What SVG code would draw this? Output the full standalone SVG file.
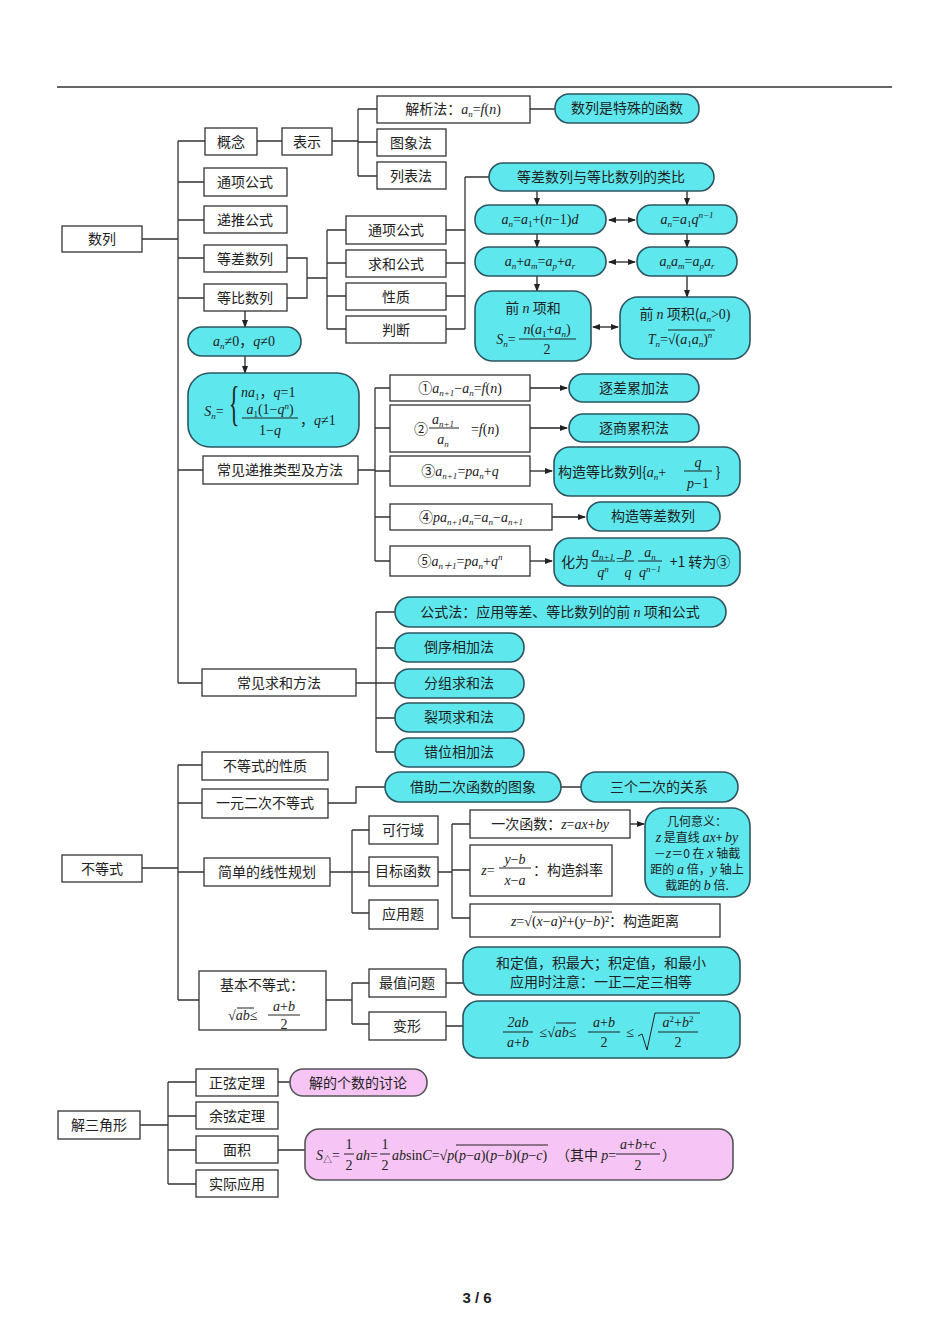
<svg xmlns="http://www.w3.org/2000/svg" width="950" height="1344" viewBox="0 0 950 1344">
<defs>
<marker id="ah" markerWidth="8" markerHeight="8" refX="7" refY="4" orient="auto-start-reverse" markerUnits="userSpaceOnUse"><path d="M0,1 L8,4 L0,7 Z" fill="#222"/></marker>
<style>
.b{fill:#fff;stroke:#333;stroke-width:1.3}
.c{fill:#5ee8ee;stroke:#2d5560;stroke-width:1.6}
.p{fill:#f7c5f5;stroke:#555;stroke-width:1.6}
.l{fill:none;stroke:#333;stroke-width:1.3}
.a{fill:none;stroke:#222;stroke-width:1.3;marker-end:url(#ah)}
.d{fill:none;stroke:#222;stroke-width:1.3;marker-end:url(#ah);marker-start:url(#ah)}
text{font-family:"Noto Sans CJK SC","Liberation Sans",sans-serif;font-size:14px;fill:#222;text-anchor:middle}
.m{font-family:"Liberation Serif","Noto Sans CJK SC",serif;font-style:italic;font-size:14px}
.s{font-size:9px}
.r{font-style:normal}
.st{text-anchor:start}
</style>
</defs>
<rect width="950" height="1344" fill="#fff"/>
<line x1="57" y1="87" x2="892" y2="87" stroke="#333" stroke-width="1.3"/>

<g id="connectors">
<path class="l" d="M142,239 H178 M178,141 V683 M178,141 H205 M178,182 H204 M178,220 H204 M178,258 H204 M178,298 H204 M178,470 H203 M178,683 H202"/>
<path class="l" d="M257,141 H282 M332,141 H358 M358,109 V176 M358,109 H377 M358,142 H377 M358,176 H377 M530,109 H555"/>
<path class="l" d="M287,258 H307 V298 H287 M307,278 H327 M327,230 V329 M327,230 H346 M327,263 H346 M327,296 H346 M327,329 H346"/>
<path class="l" d="M446,230 H465 M446,263 H465 M446,296 H465 M446,329 H465 M465,177 V329 M465,177 H489"/>
<path class="a" d="M537,191 V205"/><path class="a" d="M687,191 V205"/>
<path class="a" d="M537,234 V247"/><path class="a" d="M687,234 V247"/>
<path class="a" d="M537,276 V291"/><path class="a" d="M687,276 V297"/>
<path class="d" d="M609,220 H635"/><path class="d" d="M609,262 H635"/><path class="d" d="M593,327 H618"/>
<path class="a" d="M245,311 V327"/><path class="a" d="M245,356 V373"/>
<path class="l" d="M358,470 H375 M375,388 V561 M375,388 H390 M375,428 H390 M375,471 H390 M375,517 H390 M375,561 H390"/>
<path class="a" d="M530,388 H567"/><path class="a" d="M530,428 H567"/><path class="a" d="M530,471 H552"/><path class="a" d="M552,517 H585"/><path class="a" d="M530,561 H552"/>
<path class="l" d="M356,683 H376 M376,612 V752 M376,612 H395 M376,648 H395 M376,683 H395 M376,718 H395 M376,752 H395"/>
<path class="l" d="M142,868 H178 M178,765 V1000 M178,765 H202 M178,803 H202 M178,872 H204 M178,1000 H199"/>
<path class="l" d="M328,803 H356 V787 H385 M561,787 H581"/>
<path class="l" d="M330,872 H352 M352,830 V913 M352,830 H369 M352,872 H369 M352,913 H369 M438,872 H452 M452,824 V918 M452,824 H470 M452,870 H470 M452,918 H470"/>
<path class="a" d="M630,824 H644"/>
<path class="l" d="M326,1000 H352 M352,983 V1024 M352,983 H369 M352,1024 H369 M446,983 H463 M446,1026 H463"/>
<path class="l" d="M140,1125 H168 M168,1082 V1184 M168,1082 H196 M168,1116 H196 M168,1150 H196 M168,1184 H196 M278,1082 H290 M278,1150 H305"/>
</g>

<g id="n-shulie"><rect class="b" x="62" y="226" width="80" height="26"/><text x="102" y="244">数列</text></g>
<g id="n-gainian"><rect class="b" x="205" y="128" width="52" height="27"/><text x="231" y="147">概念</text></g>
<g id="n-biaoshi"><rect class="b" x="282" y="128" width="50" height="27"/><text x="307" y="147">表示</text></g>
<g id="n-jiexi"><rect class="b" x="377" y="96" width="153" height="27"/><text x="453" y="114"><tspan>解析法：</tspan><tspan class="m">a</tspan><tspan class="m s" dy="3">n</tspan><tspan class="m r" dy="-3">=</tspan><tspan class="m">f</tspan><tspan class="m r">(</tspan><tspan class="m">n</tspan><tspan class="m r">)</tspan></text></g>
<g id="n-tuxiang"><rect class="b" x="377" y="129" width="69" height="27"/><text x="411" y="148">图象法</text></g>
<g id="n-liebiao"><rect class="b" x="377" y="162" width="69" height="27"/><text x="411" y="181">列表法</text></g>
<g id="n-teshu"><rect class="c" x="555" y="94" width="144" height="29" rx="14"/><text x="627" y="113">数列是特殊的函数</text></g>
<g id="n-tongxiang"><rect class="b" x="204" y="168" width="83" height="28"/><text x="245" y="187">通项公式</text></g>
<g id="n-ditui"><rect class="b" x="204" y="206" width="83" height="27"/><text x="245" y="225">递推公式</text></g>
<g id="n-dengcha"><rect class="b" x="204" y="245" width="83" height="27"/><text x="245" y="264">等差数列</text></g>
<g id="n-dengbi"><rect class="b" x="204" y="284" width="83" height="27"/><text x="245" y="303">等比数列</text></g>
<g id="n-tx2"><rect class="b" x="346" y="216" width="100" height="28"/><text x="396" y="235">通项公式</text></g>
<g id="n-qiuhe"><rect class="b" x="346" y="250" width="100" height="27"/><text x="396" y="269">求和公式</text></g>
<g id="n-xingzhi"><rect class="b" x="346" y="283" width="100" height="27"/><text x="396" y="302">性质</text></g>
<g id="n-panduan"><rect class="b" x="346" y="316" width="100" height="27"/><text x="396" y="335">判断</text></g>
<g id="n-leibi"><rect class="c" x="489" y="163" width="225" height="28" rx="14"/><text x="601" y="182">等差数列与等比数列的类比</text></g>
<g id="n-c1"><rect class="c" x="475" y="205" width="131" height="29" rx="14"/><text class="m" x="540" y="224">a<tspan class="s" dy="3">n</tspan><tspan class="r" dy="-3">=</tspan>a<tspan class="s r" dy="3">1</tspan><tspan class="r" dy="-3">+(</tspan>n<tspan class="r">−1)</tspan>d</text></g>
<g id="n-c2"><rect class="c" x="637" y="205" width="100" height="29" rx="14"/><text class="m" x="687" y="224">a<tspan class="s" dy="3">n</tspan><tspan class="r" dy="-3">=</tspan>a<tspan class="s r" dy="3">1</tspan><tspan dy="-3">q</tspan><tspan class="s" dy="-6">n−1</tspan></text></g>
<g id="n-c3"><rect class="c" x="475" y="247" width="131" height="29" rx="14"/><text class="m" x="540" y="266">a<tspan class="s" dy="3">n</tspan><tspan class="r" dy="-3">+</tspan>a<tspan class="s" dy="3">m</tspan><tspan class="r" dy="-3">=</tspan>a<tspan class="s" dy="3">p</tspan><tspan class="r" dy="-3">+</tspan>a<tspan class="s" dy="3">r</tspan></text></g>
<g id="n-c4"><rect class="c" x="637" y="247" width="100" height="29" rx="14"/><text class="m" x="687" y="266">a<tspan class="s" dy="3">n</tspan><tspan dy="-3">a</tspan><tspan class="s" dy="3">m</tspan><tspan class="r" dy="-3">=</tspan>a<tspan class="s" dy="3">p</tspan><tspan dy="-3">a</tspan><tspan class="s" dy="3">r</tspan></text></g>
<g id="n-c5"><rect class="c" x="475" y="291" width="116" height="70" rx="18"/><text x="533" y="313">前 <tspan class="m">n</tspan> 项和</text><text class="m" x="506" y="344">S<tspan class="s" dy="3">n</tspan><tspan class="r" dy="-3">=</tspan></text><text class="m" x="547" y="334">n<tspan class="r">(</tspan>a<tspan class="s r" dy="3">1</tspan><tspan class="r" dy="-3">+</tspan>a<tspan class="s" dy="3">n</tspan><tspan class="r" dy="-3">)</tspan></text><line x1="519" y1="339" x2="576" y2="339" stroke="#222"/><text class="m r" x="547" y="354">2</text></g>
<g id="n-c6"><rect class="c" x="620" y="297" width="130" height="62" rx="18"/><text x="685" y="319">前 <tspan class="m">n</tspan> 项积(<tspan class="m">a</tspan><tspan class="m s" dy="3">n</tspan><tspan class="m r" dy="-3">&gt;0)</tspan></text><text class="m" x="680" y="344">T<tspan class="s" dy="3">n</tspan><tspan class="r" dy="-3">=√(</tspan>a<tspan class="s r" dy="3">1</tspan><tspan dy="-3">a</tspan><tspan class="s" dy="3">n</tspan><tspan class="r" dy="-3">)</tspan><tspan class="s" dy="-6">n</tspan></text><line x1="668" y1="330" x2="715" y2="330" stroke="#222"/></g>
<g id="n-ne0"><rect class="c" x="188" y="327" width="113" height="29" rx="14"/><text class="m" x="244" y="346">a<tspan class="s" dy="3">n</tspan><tspan class="r" dy="-3">≠0，</tspan>q<tspan class="r">≠0</tspan></text></g>
<g id="n-sn"><rect class="c" x="188" y="373" width="171" height="74" rx="22"/><text class="m" x="214" y="416">S<tspan class="s" dy="3">n</tspan><tspan class="r" dy="-3">=</tspan></text><text class="r" x="0" y="0" transform="translate(234,420) scale(1,2.2)" style="font-size:22px;font-family:'Liberation Serif',serif">{</text><text class="m st" x="241" y="397">na<tspan class="s r" dy="3">1</tspan><tspan class="r" dy="-3">，</tspan>q<tspan class="r">=1</tspan></text><text class="m" x="270" y="414">a<tspan class="s r" dy="3">1</tspan><tspan class="r" dy="-3">(1−</tspan>q<tspan class="s" dy="-5">n</tspan><tspan class="r" dy="5">)</tspan></text><line x1="242" y1="418" x2="298" y2="418" stroke="#222"/><text class="m" x="270" y="435"><tspan class="r">1−</tspan>q</text><text class="m st" x="300" y="425"><tspan class="r">，</tspan>q<tspan class="r">≠1</tspan></text></g>
<g id="n-digui"><rect class="b" x="203" y="456" width="155" height="28"/><text x="280" y="475">常见递推类型及方法</text></g>
<g id="n-r1"><rect class="b" x="390" y="375" width="140" height="26"/><text class="m" x="460" y="393"><tspan class="r">①</tspan>a<tspan class="s" dy="3">n+1</tspan><tspan class="r" dy="-3">−</tspan>a<tspan class="s" dy="3">n</tspan><tspan class="r" dy="-3">=</tspan>f<tspan class="r">(</tspan>n<tspan class="r">)</tspan></text></g>
<g id="n-r2"><rect class="b" x="390" y="405" width="140" height="47"/><text x="421" y="434">②</text><text class="m" x="443" y="424">a<tspan class="s" dy="3">n+1</tspan></text><line x1="429" y1="428" x2="459" y2="428" stroke="#222"/><text class="m" x="443" y="444">a<tspan class="s" dy="3">n</tspan></text><text class="m" x="485" y="434"><tspan class="r">=</tspan>f<tspan class="r">(</tspan>n<tspan class="r">)</tspan></text></g>
<g id="n-r3"><rect class="b" x="390" y="456" width="140" height="30"/><text class="m" x="460" y="476"><tspan class="r">③</tspan>a<tspan class="s" dy="3">n+1</tspan><tspan class="r" dy="-3">=</tspan>pa<tspan class="s" dy="3">n</tspan><tspan class="r" dy="-3">+</tspan>q</text></g>
<g id="n-r4"><rect class="b" x="390" y="504" width="162" height="26"/><text class="m" x="471" y="522"><tspan class="r">④</tspan>pa<tspan class="s" dy="3">n+1</tspan><tspan dy="-3">a</tspan><tspan class="s" dy="3">n</tspan><tspan class="r" dy="-3">=</tspan>a<tspan class="s" dy="3">n</tspan><tspan class="r" dy="-3">−</tspan>a<tspan class="s" dy="3">n+1</tspan></text></g>
<g id="n-r5"><rect class="b" x="390" y="546" width="140" height="30"/><text class="m" x="460" y="566"><tspan class="r">⑤</tspan>a<tspan class="s" dy="3">n＋1</tspan><tspan class="r" dy="-3">=</tspan>pa<tspan class="s" dy="3">n</tspan><tspan class="r" dy="-3">+</tspan>q<tspan class="s" dy="-6">n</tspan></text></g>
<g id="n-m1"><rect class="c" x="569" y="374" width="130" height="28" rx="14"/><text x="634" y="393">逐差累加法</text></g>
<g id="n-m2"><rect class="c" x="569" y="414" width="130" height="28" rx="14"/><text x="634" y="433">逐商累积法</text></g>
<g id="n-m3"><rect class="c" x="554" y="447" width="186" height="49" rx="16"/><text class="st" x="558" y="477">构造等比数列{<tspan class="m">a</tspan><tspan class="m s" dy="3">n</tspan><tspan class="m r" dy="-3">+</tspan></text><text class="m" x="698" y="467">q</text><line x1="684" y1="471" x2="712" y2="471" stroke="#222"/><text class="m" x="698" y="488">p<tspan class="r">−1</tspan></text><text class="r" x="718" y="477">}</text></g>
<g id="n-m4"><rect class="c" x="587" y="502" width="133" height="29" rx="14"/><text x="653" y="521">构造等差数列</text></g>
<g id="n-m5"><rect class="c" x="554" y="538" width="186" height="48" rx="16"/><text x="575" y="567">化为</text><text class="m" x="603" y="557">a<tspan class="s" dy="3">n+1</tspan></text><line x1="591" y1="561" x2="615" y2="561" stroke="#222"/><text class="m" x="603" y="577">q<tspan class="s" dy="-5">n</tspan></text><text class="m r" x="620" y="565">=</text><text class="m" x="628" y="557">p</text><line x1="622" y1="561" x2="634" y2="561" stroke="#222"/><text class="m" x="628" y="577">q</text><text class="m" x="650" y="557">a<tspan class="s" dy="3">n</tspan></text><line x1="638" y1="561" x2="662" y2="561" stroke="#222"/><text class="m" x="650" y="577">q<tspan class="s" dy="-5">n−1</tspan></text><text x="700" y="567">+1 转为③</text></g>
<g id="n-qiuhefa"><rect class="b" x="202" y="669" width="154" height="27"/><text x="279" y="688">常见求和方法</text></g>
<g id="n-s1"><rect class="c" x="395" y="597" width="331" height="30" rx="15"/><text x="560" y="617">公式法：应用等差、等比数列的前 <tspan class="m">n</tspan> 项和公式</text></g>
<g id="n-s2"><rect class="c" x="395" y="633" width="129" height="29" rx="14"/><text x="459" y="652">倒序相加法</text></g>
<g id="n-s3"><rect class="c" x="395" y="669" width="129" height="29" rx="14"/><text x="459" y="688">分组求和法</text></g>
<g id="n-s4"><rect class="c" x="395" y="703" width="129" height="29" rx="14"/><text x="459" y="722">裂项求和法</text></g>
<g id="n-s5"><rect class="c" x="395" y="738" width="129" height="29" rx="14"/><text x="459" y="757">错位相加法</text></g>

<g id="n-budengshi"><rect class="b" x="62" y="855" width="80" height="27"/><text x="102" y="874">不等式</text></g>
<g id="n-bxz"><rect class="b" x="202" y="752" width="126" height="28"/><text x="265" y="771">不等式的性质</text></g>
<g id="n-yyec"><rect class="b" x="202" y="789" width="126" height="29"/><text x="265" y="808">一元二次不等式</text></g>
<g id="n-jiezhu"><rect class="c" x="385" y="772" width="176" height="30" rx="15"/><text x="473" y="792">借助二次函数的图象</text></g>
<g id="n-sange"><rect class="c" x="581" y="772" width="157" height="30" rx="15"/><text x="659" y="792">三个二次的关系</text></g>
<g id="n-xxgh"><rect class="b" x="204" y="858" width="126" height="28"/><text x="267" y="877">简单的线性规划</text></g>
<g id="n-kxy"><rect class="b" x="369" y="816" width="69" height="28"/><text x="403" y="835">可行域</text></g>
<g id="n-mbhs"><rect class="b" x="369" y="857" width="69" height="29"/><text x="403" y="876">目标函数</text></g>
<g id="n-yyt"><rect class="b" x="369" y="900" width="69" height="29"/><text x="403" y="919">应用题</text></g>
<g id="n-ycs"><rect class="b" x="470" y="810" width="160" height="28"/><text x="550" y="829">一次函数：<tspan class="m">z</tspan><tspan class="m r">=</tspan><tspan class="m">ax</tspan><tspan class="m r">+</tspan><tspan class="m">by</tspan></text></g>
<g id="n-xl"><rect class="b" x="470" y="845" width="142" height="51"/><text class="m" x="488" y="875">z<tspan class="r">=</tspan></text><text class="m" x="515" y="864">y<tspan class="r">−</tspan>b</text><line x1="499" y1="868" x2="531" y2="868" stroke="#222"/><text class="m" x="515" y="885">x<tspan class="r">−</tspan>a</text><text x="568" y="875">：构造斜率</text></g>
<g id="n-jl"><rect class="b" x="470" y="904" width="250" height="33"/><text x="595" y="926"><tspan class="m">z</tspan><tspan class="m r">=√(</tspan><tspan class="m">x</tspan><tspan class="m r">−</tspan><tspan class="m">a</tspan><tspan class="m r">)²+(</tspan><tspan class="m">y</tspan><tspan class="m r">−</tspan><tspan class="m">b</tspan><tspan class="m r">)²</tspan>：构造距离</text><line x1="532" y1="912" x2="612" y2="912" stroke="#222"/></g>
<g id="n-jhyy"><rect class="c" x="645" y="808" width="105" height="89" rx="18"/><text x="697" y="826" style="font-size:12px">几何意义：</text><text x="697" y="842" style="font-size:12px"><tspan class="m">z</tspan> 是直线 <tspan class="m">ax</tspan>+ <tspan class="m">by</tspan></text><text x="697" y="858" style="font-size:12px">－<tspan class="m">z</tspan>＝0 在 <tspan class="m">x</tspan> 轴截</text><text x="697" y="874" style="font-size:12px">距的 <tspan class="m">a</tspan> 倍，<tspan class="m">y</tspan> 轴上</text><text x="697" y="890" style="font-size:12px">截距的 <tspan class="m">b</tspan> 倍.</text></g>
<g id="n-jbbds"><rect class="b" x="199" y="971" width="127" height="59"/><text x="262" y="990">基本不等式：</text><text class="m st" x="228" y="1020"><tspan class="r">√</tspan>ab<tspan class="r">≤</tspan></text><line x1="237" y1="1008" x2="254" y2="1008" stroke="#222"/><text class="m" x="284" y="1011">a<tspan class="r">+</tspan>b</text><line x1="268" y1="1015" x2="300" y2="1015" stroke="#222"/><text class="m r" x="284" y="1029">2</text></g>
<g id="n-zzwt"><rect class="b" x="369" y="969" width="77" height="28"/><text x="407" y="988">最值问题</text></g>
<g id="n-bx"><rect class="b" x="369" y="1012" width="77" height="28"/><text x="407" y="1031">变形</text></g>
<g id="n-hdz"><rect class="c" x="463" y="947" width="277" height="48" rx="16"/><text x="601" y="968">和定值，积最大；积定值，和最小</text><text x="601" y="987">应用时注意：一正二定三相等</text></g>
<g id="n-bxgs"><rect class="c" x="463" y="1001" width="277" height="57" rx="16"/><text class="m" x="518" y="1027">2ab</text><line x1="503" y1="1032" x2="533" y2="1032" stroke="#222"/><text class="m" x="518" y="1047">a<tspan class="r">+</tspan>b</text><text class="m" x="558" y="1037"><tspan class="r">≤√</tspan>ab<tspan class="r">≤</tspan></text><line x1="556" y1="1023" x2="576" y2="1023" stroke="#222"/><text class="m" x="604" y="1027">a<tspan class="r">+</tspan>b</text><line x1="588" y1="1032" x2="620" y2="1032" stroke="#222"/><text class="m r" x="604" y="1047">2</text><text class="m r" x="630" y="1037">≤</text><path d="M638,1036 L642,1034 L647,1050 L655,1013 H700" fill="none" stroke="#222"/><text class="m" x="678" y="1027">a<tspan class="s r" dy="-5">2</tspan><tspan class="r" dy="5">+</tspan>b<tspan class="s r" dy="-5">2</tspan></text><line x1="658" y1="1032" x2="698" y2="1032" stroke="#222"/><text class="m r" x="678" y="1047">2</text></g>

<g id="n-jsjx"><rect class="b" x="58" y="1111" width="82" height="28"/><text x="99" y="1130">解三角形</text></g>
<g id="n-zx"><rect class="b" x="196" y="1069" width="82" height="27"/><text x="237" y="1088">正弦定理</text></g>
<g id="n-yx"><rect class="b" x="196" y="1102" width="82" height="27"/><text x="237" y="1121">余弦定理</text></g>
<g id="n-mj"><rect class="b" x="196" y="1136" width="82" height="27"/><text x="237" y="1155">面积</text></g>
<g id="n-sjyy"><rect class="b" x="196" y="1170" width="82" height="27"/><text x="237" y="1189">实际应用</text></g>
<g id="n-jgs"><rect class="p" x="290" y="1069" width="137" height="27" rx="13"/><text x="358" y="1088">解的个数的讨论</text></g>
<g id="n-mjgs"><rect class="p" x="305" y="1129" width="428" height="51" rx="14"/><text class="m st" x="316" y="1160">S<tspan class="s r" dy="3">△</tspan><tspan class="r" dy="-3">=</tspan></text><text class="m r" x="349" y="1149">1</text><line x1="344" y1="1154" x2="354" y2="1154" stroke="#222"/><text class="m r" x="349" y="1170">2</text><text class="m st" x="356" y="1160">ah<tspan class="r">=</tspan></text><text class="m r" x="385" y="1149">1</text><line x1="380" y1="1154" x2="390" y2="1154" stroke="#222"/><text class="m r" x="385" y="1170">2</text><text class="m st" x="392" y="1160">ab<tspan class="r">sin</tspan>C<tspan class="r">=√</tspan>p<tspan class="r">(</tspan>p<tspan class="r">−</tspan>a<tspan class="r">)(</tspan>p<tspan class="r">−</tspan>b<tspan class="r">)(</tspan>p<tspan class="r">−</tspan>c<tspan class="r">)</tspan></text><line x1="456" y1="1145" x2="548" y2="1145" stroke="#222"/><text class="st" x="556" y="1160">（其中 <tspan class="m">p</tspan><tspan class="m r">=</tspan></text><text class="m" x="638" y="1149">a<tspan class="r">+</tspan>b<tspan class="r">+</tspan>c</text><line x1="616" y1="1154" x2="660" y2="1154" stroke="#222"/><text class="m r" x="638" y="1170">2</text><text class="st" x="662" y="1160">）</text></g>

<text x="477" y="1303" style="font-family:'Liberation Sans',sans-serif;font-weight:bold;font-size:15px">3 / 6</text>
</svg>
